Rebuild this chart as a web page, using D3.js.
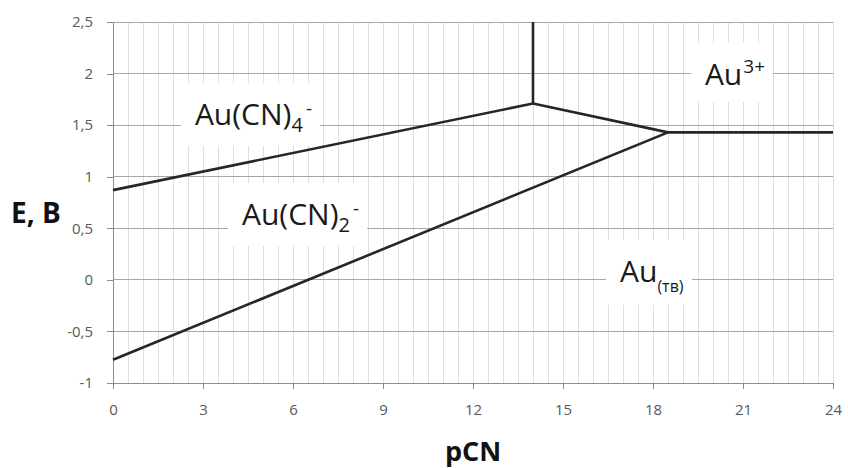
<!DOCTYPE html>
<html>
<head>
<meta charset="utf-8">
<script src="https://cdn.jsdelivr.net/npm/d3@7"></script>
<style>
  body { margin: 0; background: #fff; }
  svg { display: block; }
</style>
</head>
<body>
<div id="chart"></div>
<script>
// boundaries of the E-pCN diagram, [pCN, E]
var lineCN4 = [[0, 0.87], [14, 1.71]];
var lineCN2 = [[0, -0.775], [18.5, 1.43]];
var lineAu3CN4 = [[14, 1.71], [18.5, 1.43]];
var lineAu3Au = [[18.5, 1.43], [24, 1.43]];
var lineVert = [[14, 1.71], [14, 2.5]];

var xTicks = [0, 3, 6, 9, 12, 15, 18, 21, 24];
var yTicks = [-1, -0.5, 0, 0.5, 1, 1.5, 2, 2.5];

// region labels: [pCN, E, main, sub, sup]
var labels = [
  [2.73, 1.50, "Au(CN)", "4", "-"],
  [4.3, 0.533, "Au(CN)", "2", "-"],
  [19.73, 1.89, "Au", "", "3+"],
  [16.9, -0.02, "Au", "(тв)", ""]
];

var width = 848, height = 468;
var svg = d3.select("#chart").append("svg")
    .attr("width", width)
    .attr("height", height);

var x = d3.scaleLinear().domain([0, 24]).range([113, 833]);
var y = d3.scaleLinear().domain([-1, 2.5]).range([383, 22]);

// vertical minor grid (every 0.5)
var xGrid = d3.range(0.5, 24.01, 0.5);
svg.append("g").selectAll("line")
    .data(xGrid).enter().append("line")
    .attr("x1", function(d){ return x(d); })
    .attr("x2", function(d){ return x(d); })
    .attr("y1", y(2.5))
    .attr("y2", y(-1))
    .style("stroke", "#dedede")
    .style("stroke-width", 1)
    .attr("shape-rendering", "crispEdges");

// horizontal grid
svg.append("g").selectAll("line")
    .data(yTicks).enter().append("line")
    .attr("x1", x(0))
    .attr("x2", x(24))
    .attr("y1", function(d){ return y(d); })
    .attr("y2", function(d){ return y(d); })
    .style("stroke", "#a6a6a6")
    .style("stroke-width", 1)
    .attr("shape-rendering", "crispEdges");

// axes
var yAxis = d3.axisLeft(y).tickValues(yTicks).tickSize(6).tickPadding(14)
    .tickFormat(function(d){ return String(d).replace(".", ","); });
var gy = svg.append("g").attr("transform", "translate(" + x(0) + ",0)").call(yAxis);

var xAxis = d3.axisBottom(x).tickValues(xTicks).tickSize(6).tickPadding(15);
var gx = svg.append("g").attr("transform", "translate(0," + y(-1) + ")").call(xAxis);

[gx, gy].forEach(function(g){
  g.select(".domain").style("stroke", "#8c8c8c").attr("shape-rendering", "crispEdges");
  g.selectAll(".tick line").style("stroke", "#8c8c8c").attr("shape-rendering", "crispEdges");
  g.selectAll(".tick text")
    .style("font-family", "'Open Sans', sans-serif")
    .style("font-size", "15px")
    .style("fill", "#595959");
});
gx.select(".domain").attr("d", "M" + x(0) + ",0.5H" + x(24));
gy.select(".domain").attr("d", "M0.5," + y(-1) + "V" + y(2.5));

// region labels with white boxes
var labelG = svg.append("g");
labels.forEach(function(l){
  var g = labelG.append("g");
  var box = g.append("rect").style("fill", "#fff");
  var t = g.append("text")
      .attr("x", x(l[0]))
      .attr("y", y(l[1]))
      .style("font-family", "'Open Sans', sans-serif")
      .style("font-size", "30px")
      .style("fill", "#1a1a1a");
  t.append("tspan").text(l[2]);
  if (l[3]) {
    var subSize = l[3].length > 1 ? 16 : 20;
    var subDy = l[3].length > 1 ? 10 : 7;
    t.append("tspan").attr("dy", subDy).style("font-size", subSize + "px").text(l[3]);
  }
  if (l[4]) {
    var supDy = l[3] ? -17 : -12;
    t.append("tspan").attr("dy", supDy).attr("dx", l[3] ? 3 : 1)
      .style("font-size", "19px").text(l[4]);
  }
  var bb = t.node().getBBox();
  box.attr("x", bb.x - 14).attr("y", bb.y - 10)
     .attr("width", bb.width + 22).attr("height", bb.height + 18);
});

// boundary lines
var line = d3.line()
    .x(function(d){ return x(d[0]); })
    .y(function(d){ return y(d[1]); });
[lineCN4, lineCN2, lineAu3CN4, lineAu3Au, lineVert].forEach(function(pts){
  svg.append("path")
      .datum(pts)
      .attr("d", line)
      .style("fill", "none")
      .style("stroke", "#262626")
      .style("stroke-width", 2.6)
      .style("stroke-linejoin", "round");
});

// axis titles
svg.append("text")
    .attr("x", 11).attr("y", 223)
    .style("font-family", "'Open Sans', sans-serif")
    .style("font-weight", "bold")
    .style("font-size", "28px")
    .style("fill", "#111")
    .text("E, B");

svg.append("text")
    .attr("x", 473).attr("y", 461)
    .attr("text-anchor", "middle")
    .style("font-family", "'Open Sans', sans-serif")
    .style("font-weight", "bold")
    .style("font-size", "27px")
    .style("fill", "#111")
    .text("pCN");
</script>
</body>
</html>
